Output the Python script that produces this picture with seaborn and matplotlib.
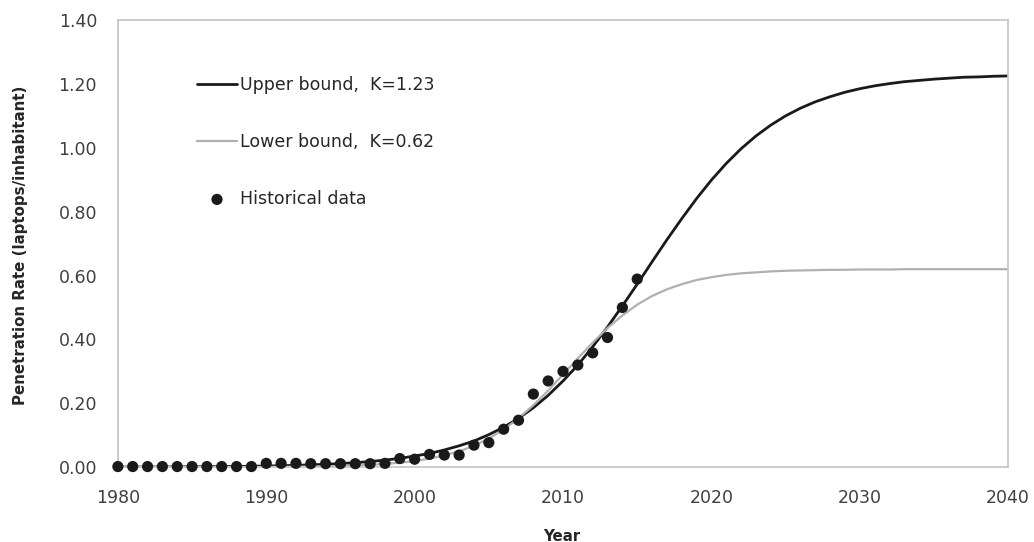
import seaborn as sns
import matplotlib.pyplot as plt
import pandas as pd

# 数据
curve_years = list(range(1980, 2041))
upper_curve = [0.0004, 0.0005, 0.0006, 0.0008, 0.0010, 0.0012, 0.0015, 0.0019, 0.0024, 0.0030,
               0.0037, 0.0047, 0.0058, 0.0073, 0.0091, 0.0114, 0.0142, 0.0178, 0.0222, 0.0278,
               0.035, 0.043, 0.054, 0.067, 0.082, 0.102, 0.125, 0.153, 0.186, 0.225,
               0.270, 0.320, 0.377, 0.439, 0.505, 0.573, 0.643, 0.712, 0.778, 0.841,
               0.899, 0.951, 0.997, 1.037, 1.071, 1.100, 1.124, 1.144, 1.160, 1.174,
               1.185, 1.194, 1.201, 1.207, 1.211, 1.215, 1.218, 1.221, 1.222, 1.224,
               1.225]
lower_curve = [0.0000, 0.0000, 0.0001, 0.0001, 0.0001, 0.0002, 0.0002, 0.0003, 0.0004, 0.0005,
               0.0007, 0.0010, 0.0015, 0.0020, 0.0027, 0.0038, 0.0053, 0.0074, 0.0102, 0.0141,
               0.019, 0.027, 0.037, 0.050, 0.067, 0.090, 0.118, 0.153, 0.194, 0.240,
               0.290, 0.341, 0.390, 0.436, 0.475, 0.509, 0.536, 0.557, 0.573, 0.586,
               0.595, 0.602, 0.607, 0.610, 0.613, 0.615, 0.616, 0.617, 0.618, 0.618,
               0.619, 0.619, 0.619, 0.620, 0.620, 0.620, 0.620, 0.620, 0.620, 0.620,
               0.620]

hist_years = list(range(1980, 2016))
hist_values = [0.002, 0.002, 0.002, 0.002, 0.002, 0.002, 0.002, 0.002, 0.002, 0.002,
               0.012, 0.012, 0.012, 0.011, 0.011, 0.011, 0.011, 0.011, 0.012, 0.027,
               0.025, 0.040, 0.038, 0.038, 0.069, 0.077, 0.119, 0.147, 0.229, 0.270,
               0.300, 0.320, 0.358, 0.406, 0.500, 0.589]

curves = pd.DataFrame({'Year': curve_years, 'upper': upper_curve, 'lower': lower_curve})
hist = pd.DataFrame({'Year': hist_years, 'value': hist_values})

sns.set_theme(style='white')
plt.rcParams['font.family'] = ['DejaVu Sans']

fig = plt.figure(figsize=(10.34, 5.42), dpi=100)
ax = fig.add_axes([0.114, 0.138, 0.861, 0.825])

sns.lineplot(data=curves, x='Year', y='upper', ax=ax, color='#1a1a1a', linewidth=2.0,
             label='Upper bound,  K=1.23')
sns.lineplot(data=curves, x='Year', y='lower', ax=ax, color='#b0b0b0', linewidth=1.6,
             label='Lower bound,  K=0.62')
sns.scatterplot(data=hist, x='Year', y='value', ax=ax, color='#1a1a1a', s=65,
                edgecolor='none', label='Historical data', clip_on=False, zorder=5)

ax.set_xlim(1980, 2040)
ax.set_ylim(0, 1.4)
ax.set_xticks(range(1980, 2041, 10))
ax.set_yticks([i * 0.2 for i in range(8)])
ax.set_yticklabels([f'{i * 0.2:.2f}' for i in range(8)])

ax.tick_params(axis='x', pad=16, labelsize=12.5, colors='#404040', length=0)
ax.tick_params(axis='y', pad=15, labelsize=12.5, colors='#404040', length=0)

for sp in ax.spines.values():
    sp.set_color('#c8c8c8')
    sp.set_linewidth(1.3)

ax.set_xlabel('Year', fontsize=10.8, fontweight='bold', color='#262626')
ax.set_ylabel('Penetration Rate (laptops/inhabitant)', fontsize=10.8, fontweight='bold',
              color='#262626')
ax.xaxis.set_label_coords(0.499, -0.138)
ax.yaxis.set_label_coords(-0.101, 0.497)

ax.legend(loc='upper left', bbox_to_anchor=(0.085, 0.883), frameon=False, fontsize=12.5,
          handlelength=2.3, handletextpad=0.15, labelspacing=2.25, borderaxespad=0,
          borderpad=0.2, labelcolor='#262626')

fig.savefig('out.png', dpi=100)
